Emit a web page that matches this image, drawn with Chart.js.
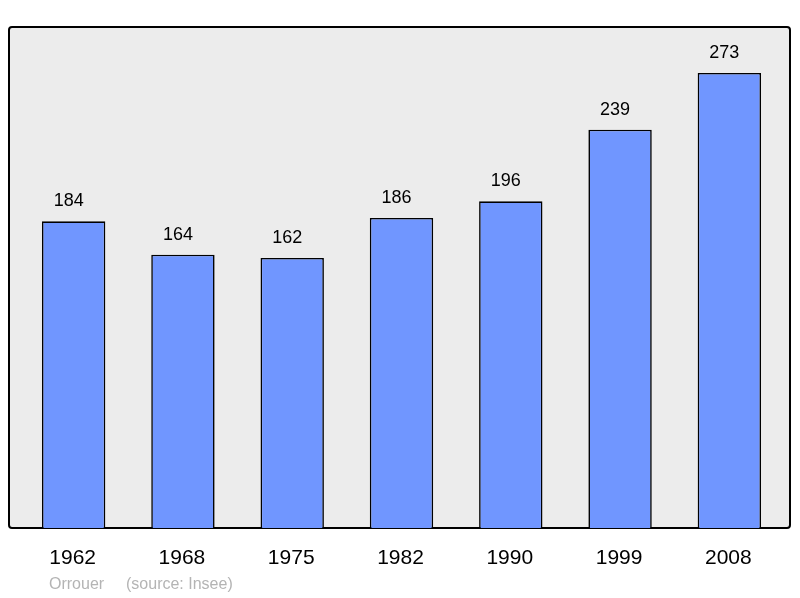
<!DOCTYPE html>
<html><head><meta charset="utf-8">
<script src="https://cdn.jsdelivr.net/npm/chart.js@4"></script>
<style>html,body{margin:0;padding:0;background:#fff}#w{width:800px;height:598px}</style>
</head><body><div id="w"><canvas id="c"></canvas></div>
<script>
const years = ["1962","1968","1975","1982","1990","1999","2008"];
const population = [184,164,162,186,196,239,273];
const captionName = "Orrouer";
const captionSource = "(source: Insee)";

const deco = {
  id:'deco',
  beforeDatasetsDraw(ch){
    const c=ch.ctx;
    c.save();
    c.beginPath();
    if(c.roundRect) c.roundRect(9,27,781,501,3); else c.rect(9,27,781,501);
    c.fillStyle='#ececec'; c.fill();
    c.lineWidth=2; c.strokeStyle='#000'; c.stroke();
    c.restore();
  },
  afterDatasetsDraw(ch){
    const c=ch.ctx, x=ch.scales.x, y=ch.scales.y;
    c.save();
    c.fillStyle='#000'; c.textAlign='center';
    c.font='18px "Liberation Sans", Arial, sans-serif';
    c.textBaseline='alphabetic';
    population.forEach((v,i)=>c.fillText(String(v), x.getPixelForValue(i)-5, y.getPixelForValue(v)-15));
    c.font='21px "Liberation Sans", Arial, sans-serif';
    years.forEach((t,i)=>c.fillText(t, x.getPixelForValue(i)-1, 564));
    c.textAlign='left'; c.fillStyle='#b4b4b4';
    c.font='16px "Liberation Sans", Arial, sans-serif';
    c.fillText(captionName, 49, 589);
    c.fillText(captionSource, 126, 589);
    c.restore();
  }
};

new Chart(document.getElementById('c'),{
  type:'bar',
  data:{labels:years,datasets:[{data:population,backgroundColor:'#7096ff',borderColor:'#000',borderWidth:1.6,barPercentage:0.58,categoryPercentage:1}]},
  options:{
    responsive:true,maintainAspectRatio:false,animation:false,
    layout:{padding:{left:19,right:16,top:28,bottom:70}},
    plugins:{legend:{display:false},tooltip:{enabled:false}},
    scales:{
      x:{display:false},
      y:{display:false,min:0,max:300}
    }
  },
  plugins:[deco]
});
</script></body></html>
